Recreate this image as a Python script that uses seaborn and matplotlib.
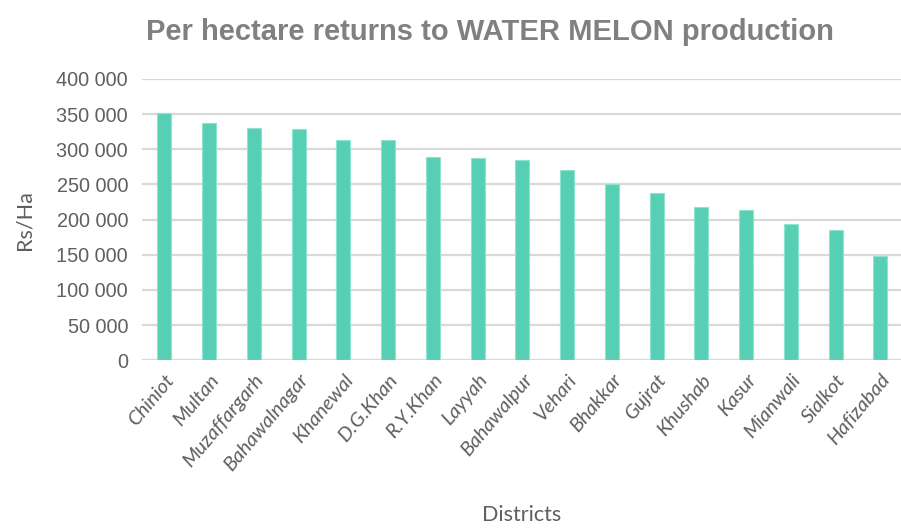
import matplotlib
matplotlib.use("Agg")
import matplotlib.pyplot as plt
import seaborn as sns
import pandas as pd

districts = ["Chiniot", "Multan", "Muzaffargarh", "Bahawalnagar", "Khanewal",
             "D.G.Khan", "R.Y.Khan", "Layyah", "Bahawalpur", "Vehari", "Bhakkar",
             "Gujrat", "Khushab", "Kasur", "Mianwali", "Sialkot", "Hafizabad"]
returns_rs_ha = [351000, 337000, 331000, 329000, 313000, 313000, 289000, 287000,
                 285000, 271000, 250000, 237500, 217500, 214000, 194000, 185000, 148000]
y_ticks = [0, 50000, 100000, 150000, 200000, 250000, 300000, 350000, 400000]
y_tick_labels = ["0", "50 000", "100 000", "150 000", "200 000", "250 000",
                 "300 000", "350 000", "400 000"]

df = pd.DataFrame({"District": districts, "Returns": returns_rs_ha})

sns.set_theme(style="white")
plt.rcParams["font.family"] = ["Liberation Sans", "DejaVu Sans"]

fig = plt.figure(figsize=(9.01, 5.32), dpi=100)
ax = fig.add_axes([142 / 901, 171.7 / 532, 759 / 901, 281.3 / 532])

sns.barplot(data=df, x="District", y="Returns", color="#57CFB4", width=0.31,
            saturation=1, edgecolor="#8FE3CF", linewidth=0.8, ax=ax, zorder=3)

ax.set_ylim(0, 400000)
ax.set_xlim(-0.5, -0.5 + 759 / 44.75)
ax.set_yticks(y_ticks)
ax.set_yticklabels(y_tick_labels, fontsize=14.3, color="#5F5F5F")
ax.yaxis.grid(True, color="#D9D9D9", linewidth=1.6, zorder=0)
ax.set_axisbelow(True)
for s in ax.spines.values():
    s.set_visible(False)
ax.tick_params(axis="both", length=0)
ax.tick_params(axis="y", pad=10)

ax.set_xticks(range(len(districts)))
ax.set_xticklabels(districts, rotation=50, ha="right", rotation_mode="anchor",
                   fontsize=14.5, color="#5F5F5F", style="italic", family="Lato")
ax.tick_params(axis="x", pad=8)

ax.set_xlabel("Districts", fontsize=15.5, color="#5F5F5F", family="Lato", labelpad=22)
ax.set_ylabel("Rs/Ha", fontsize=15.5, color="#5F5F5F", family="Lato", labelpad=16)

fig.text(0.544, 0.94, "Per hectare returns to WATER MELON production",
         ha="center", va="center", fontsize=21, fontweight="bold", color="#808080")

fig.savefig("out.png", dpi=100)
